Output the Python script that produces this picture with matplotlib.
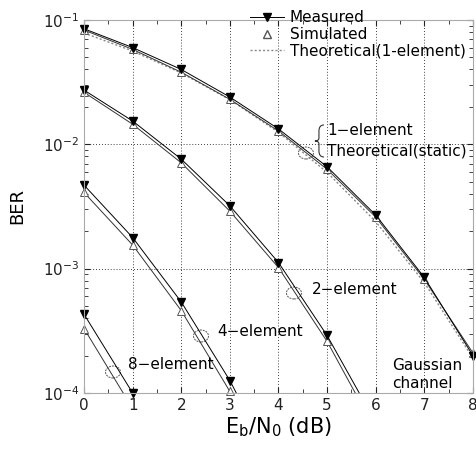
import numpy as np
import matplotlib.pyplot as plt
from matplotlib.patches import Ellipse, PathPatch
from matplotlib.path import Path
from matplotlib.lines import Line2D

plt.rcParams['font.family'] = ['DejaVu Sans']
plt.rcParams['mathtext.fontset'] = 'dejavusans'

# Eb/N0 points (dB)
snr = [0, 1, 2, 3, 4, 5, 6, 7, 8]

# 1-element
meas_1 = [0.085, 0.060, 0.040, 0.024, 0.0133, 0.0066, 0.0027, 0.00085, 0.00020]
sim_1 = [0.083, 0.058, 0.038, 0.023, 0.0128, 0.0063, 0.0026, 0.00082, 0.00021]
theory_1 = [0.0786, 0.0563, 0.0375, 0.0229, 0.0125, 0.00595, 0.00239, 0.000773, 0.000191]

# 2-element (last value is the curve tail below the axis)
snr_2 = [0, 1, 2, 3, 4, 5, 6]
meas_2 = [0.0273, 0.0154, 0.0076, 0.0032, 0.00112, 0.00029, 0.000058]
sim_2 = [0.0262, 0.0145, 0.0071, 0.0029, 0.00102, 0.00026, 0.000050]

# 4-element
snr_4 = [0, 1, 2, 3, 4]
meas_4 = [0.0047, 0.00178, 0.00054, 0.000126, 0.000022]
sim_4 = [0.0041, 0.00155, 0.00046, 0.000103, 0.000018]

# 8-element
snr_8 = [0, 1]
meas_8 = [0.00043, 0.000100]
sim_8 = [0.00033, 0.000075]

fig = plt.figure(figsize=(4.76, 4.54), dpi=100)
ax = fig.add_axes([0.1765, 0.1344, 0.817, 0.8216])

lw = 0.7
ms = 6
meas_style = dict(color='black', lw=lw, marker='v', ms=ms, mfc='black', mec='black')
sim_style = dict(color='#333333', lw=lw)
tri_style = dict(ls='none', marker='^', ms=ms, mfc='white', mec='#555555', mew=0.7)

# 1-element curves
ax.plot(snr, theory_1, color='#888888', lw=1.0, ls=(0, (1.5, 1.5)))
ax.plot(snr, sim_1, **sim_style)
ax.plot(snr, sim_1, clip_on=False, **tri_style)
ax.plot(snr, meas_1, clip_on=False, **meas_style)

# diversity curves, markers only on the measured points
for xs, m, s, n_m, n_s in [(snr_2, meas_2, sim_2, 6, 6),
                           (snr_4, meas_4, sim_4, 4, 4),
                           (snr_8, meas_8, sim_8, 2, 1)]:
    ax.plot(xs, s, **sim_style)
    ax.plot(xs[:n_s], s[:n_s], clip_on=False, **tri_style)
    ax.plot(xs, m, color='black', lw=lw)
    ax.plot(xs[:n_m], m[:n_m], ls='none', marker='v', ms=ms, color='black',
            clip_on=False)

ax.set_yscale('log')
ax.set_xlim(0, 8)
ax.set_ylim(1e-4, 1e-1)
ax.set_xticks(range(9))
ax.grid(True, which='major', ls=(0, (1, 2.5)), color='black', lw=0.6)
ax.tick_params(which='both', direction='in', top=True, right=True,
               labelsize=11, colors='#222222')
ax.tick_params(which='major', length=4)
ax.tick_params(which='minor', length=3)
ax.set_xticks(np.arange(0, 8.01, 0.5), minor=True)
for sp in ax.spines.values():
    sp.set_color('#aaaaaa')
    sp.set_linewidth(0.8)

ax.set_xlabel(r'E$_{\mathrm{b}}$/N$_{\mathrm{0}}$ (dB)', fontsize=15, labelpad=2)
ax.set_ylabel('BER', fontsize=13, labelpad=12)

handles = [
    Line2D([], [], color='black', lw=lw, marker='v', ms=ms),
    Line2D([], [], ls='none', marker='^', ms=ms, mfc='white', mec='#555555'),
    Line2D([], [], color='#888888', lw=1.0, ls=(0, (1.5, 1.5))),
]
ax.legend(handles, ['Measured', 'Simulated', 'Theoretical(1-element)'],
          loc='upper right', bbox_to_anchor=(1.005, 1.05), frameon=False,
          fontsize=11, handlelength=2.2, handletextpad=0.4, labelspacing=0.1,
          borderaxespad=0.2)

# curve labels with loop markers
tf = ax.transAxes
def px(x, y):
    return ((x - 84) / 389.0, (393 - y) / 373.0)

# curly brace grouping the two 1-element labels
brace_pts = [(324, 125), (319, 125), (319, 131), (319, 138), (319, 141),
             (315, 141), (319, 141), (319, 144), (319, 151), (319, 157),
             (324, 157)]
brace_codes = [Path.MOVETO, Path.CURVE3, Path.CURVE3, Path.LINETO,
               Path.CURVE3, Path.CURVE3, Path.CURVE3, Path.CURVE3,
               Path.LINETO, Path.CURVE3, Path.CURVE3]
ax.add_patch(PathPatch(Path([px(*p) for p in brace_pts], brace_codes),
                       transform=tf, fill=False, ec='#333333', lw=0.8))

ax.text(*px(327, 131), '1\u2212element', transform=tf, fontsize=11, va='center')
ax.text(*px(327, 151), 'Theoretical(static)', transform=tf, fontsize=11,
        va='center')
ax.text(*px(312, 290), '2\u2212element', transform=tf, fontsize=11, va='center')
ax.text(*px(217, 332), '4\u2212element', transform=tf, fontsize=11, va='center')
ax.text(*px(128, 365), '8\u2212element', transform=tf, fontsize=11, va='center')
ax.text(*px(392, 366), 'Gaussian', transform=tf, fontsize=11, va='center')
ax.text(*px(392, 384), 'channel', transform=tf, fontsize=11, va='center')

for cx, cy in [(306, 153), (294, 293), (201, 336), (113, 372)]:
    ax.add_patch(Ellipse(px(cx, cy), 15 / 389.0, 12 / 373.0, transform=tf,
                         fill=False, ec='#555555', lw=0.7, ls=(0, (2, 1))))

fig.savefig('out.png', dpi=100)
